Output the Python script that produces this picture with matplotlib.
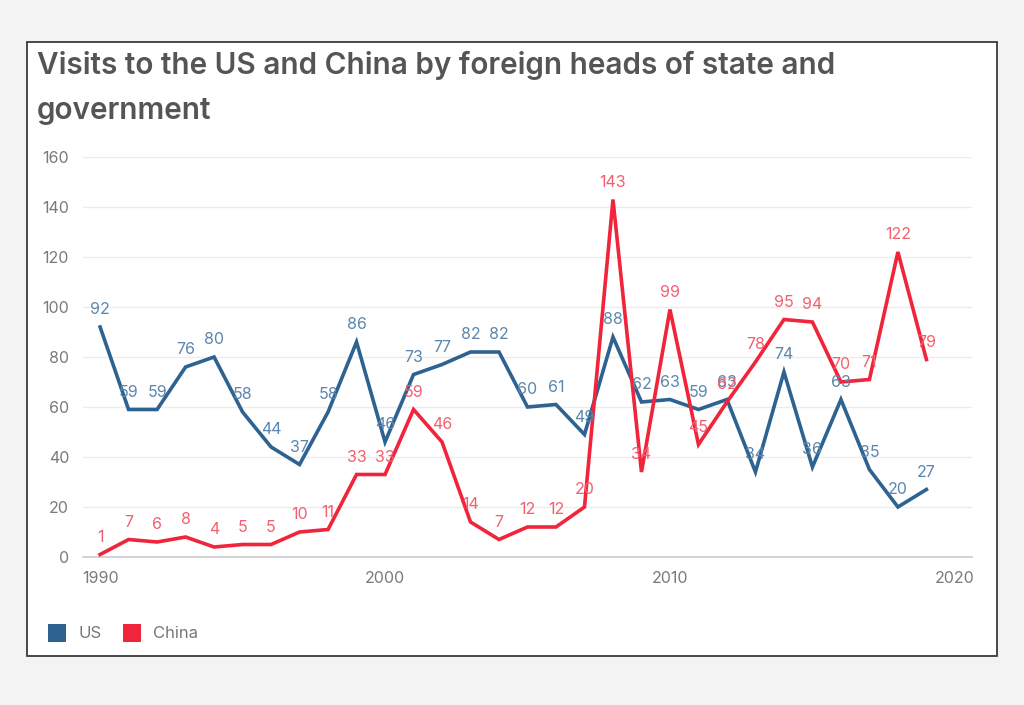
import matplotlib.pyplot as plt
from matplotlib.patches import Rectangle

plt.rcParams['font.family'] = ['Inter', 'DejaVu Sans']

years = list(range(1990, 2020))
us = [92, 59, 59, 76, 80, 58, 44, 37, 58, 86, 46, 73, 77, 82, 82, 60, 61, 49, 88, 62,
      63, 59, 63, 34, 74, 36, 63, 35, 20, 27]
china = [1, 7, 6, 8, 4, 5, 5, 10, 11, 33, 33, 59, 46, 14, 7, 12, 12, 20, 143, 34,
         99, 45, 62, 78, 95, 94, 70, 71, 122, 79]
x_ticks = [1990, 2000, 2010, 2020]
y_ticks = list(range(0, 161, 20))

us_color = '#2d6291'
china_color = '#f0243a'
us_label_color = '#5b86ad'
china_label_color = '#f2606f'

fig = plt.figure(figsize=(10.24, 7.05), dpi=100, facecolor='#f3f3f3')

# white card with dark border
card = Rectangle((27 / 1024, 1 - 656 / 705), 970 / 1024, 614 / 705,
                 transform=fig.transFigure, facecolor='white',
                 edgecolor='#3a3a3a', linewidth=1.3, zorder=-1)
fig.patches.append(card)

fig.text(37 / 1024, 1 - 88 / 705, 'Visits to the US and China by foreign heads of state and\ngovernment',
         fontsize=21.4, fontweight='semibold', color='#555555', va='center', ha='left',
         linespacing=1.76)

ax = fig.add_axes([83 / 1024, 1 - 557 / 705, 889 / 1024, 400 / 705])
ax.set_facecolor('none')
ax.plot(years, us, color=us_color, linewidth=2.6, zorder=3, solid_joinstyle='miter')
ax.plot(years, china, color=china_color, linewidth=2.6, zorder=3, solid_joinstyle='miter')

for x, v in zip(years, us):
    ax.annotate(str(v), (x, v), xytext=(0, 7), textcoords='offset points',
                ha='center', va='bottom', fontsize=11.5, color=us_label_color, zorder=4)
for x, v in zip(years, china):
    ax.annotate(str(v), (x, v), xytext=(0, 7), textcoords='offset points',
                ha='center', va='bottom', fontsize=11.5, color=china_label_color, zorder=4)

ax.set_xlim(1989.4, 2020.6)
ax.set_ylim(0, 160)
ax.set_xticks(x_ticks)
ax.set_yticks(y_ticks)
ax.tick_params(length=0, labelsize=11.5, labelcolor='#7a7a7a', pad=10)
ax.tick_params(axis='y', pad=10)
ax.grid(axis='y', color='#ececec', linewidth=1)
ax.set_axisbelow(True)
for s in ['top', 'right', 'left']:
    ax.spines[s].set_visible(False)
ax.spines['bottom'].set_color('#cccccc')
ax.spines['bottom'].set_linewidth(1.2)
ax.spines['bottom'].set_zorder(2)

# legend
for px, name, col in [(48, 'US', us_color), (123, 'China', china_color)]:
    fig.patches.append(Rectangle((px / 1024, 1 - 642 / 705), 18 / 1024, 18 / 705,
                                 transform=fig.transFigure, facecolor=col,
                                 edgecolor='none', zorder=1))
    fig.text((px + 30) / 1024, 1 - 633 / 705, name, fontsize=12, color='#777777',
             va='center', ha='left')

fig.savefig('out.png', dpi=100, facecolor=fig.get_facecolor())
